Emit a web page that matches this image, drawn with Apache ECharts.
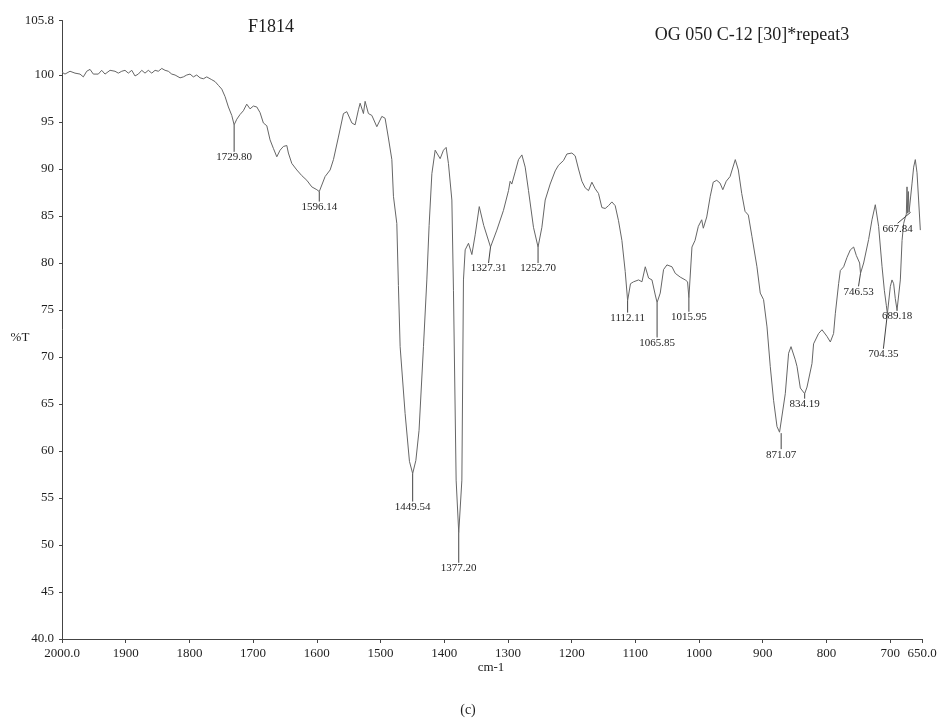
<!DOCTYPE html>
<html>
<head>
<meta charset="utf-8">
<script src="https://cdn.jsdelivr.net/npm/echarts@6/dist/echarts.min.js"></script>
<style>
  html, body { margin: 0; padding: 0; background: #fff; }
  #chart { width: 937px; height: 719px; }
</style>
</head>
<body>
<div id="chart"></div>
<script>
// FTIR transmittance spectrum, 2000-650 cm-1
const waveNumber = [
  2000.0, 1995.3, 1987.4, 1979.6, 1971.7, 1966.5, 1961.2, 1956.0, 1950.8, 1943.0,
  1937.7, 1932.5, 1924.6, 1916.8, 1911.6, 1906.2, 1901.1, 1895.9, 1890.5, 1885.4,
  1880.2, 1874.8, 1869.7, 1864.5, 1859.1, 1853.9, 1848.8, 1843.4, 1838.2, 1833.1,
  1827.7, 1822.5, 1814.7, 1809.5, 1804.2, 1799.0, 1793.8, 1788.5, 1783.3, 1778.1,
  1772.8, 1764.9, 1759.7, 1754.5, 1749.2, 1744.0, 1738.8, 1733.5,
  1725.6, 1720.5, 1715.3, 1710.0, 1704.8, 1699.6, 1694.2, 1689.1, 1683.9, 1678.5,
  1673.4, 1668.2, 1662.8, 1657.7, 1652.5, 1647.1, 1644.6, 1639.3, 1631.4, 1623.6,
  1615.7, 1607.9, 1600.0,
  1587.0, 1579.1, 1573.9, 1566.1, 1558.2, 1552.9, 1545.0, 1539.9, 1534.7, 1532.0,
  1526.8, 1524.2, 1519.0, 1513.6, 1505.8, 1497.9, 1492.8, 1487.6, 1482.2, 1479.7,
  1474.4, 1471.9, 1469.2, 1461.4, 1454.6,
  1444.5, 1439.5, 1432.6, 1427.3, 1423.7, 1419.4, 1414.2, 1411.6, 1406.4, 1401.2,
  1397.0, 1393.4, 1388.0, 1385.5, 1381.3,
  1372.3, 1369.8, 1367.1, 1361.9, 1356.6, 1351.4, 1345.0, 1338.0,
  1317.4, 1307.0, 1299.1, 1296.5, 1293.9, 1288.6, 1283.4, 1278.1, 1272.9, 1267.7,
  1259.9,
  1246.7, 1241.5, 1233.7, 1225.8, 1220.6, 1212.8, 1207.4, 1199.6, 1194.4, 1189.2,
  1183.9, 1178.7, 1173.5, 1168.2, 1163.0, 1157.8, 1152.5, 1147.3, 1142.1, 1136.8,
  1131.6, 1126.4, 1121.1, 1115.9,
  1107.6, 1102.8, 1094.9, 1089.6, 1084.4, 1079.2, 1073.9, 1068.7,
  1060.9, 1055.7, 1050.4, 1042.5, 1037.3, 1029.5, 1021.6, 1018.0,
  1011.1, 1006.3, 1001.1, 995.8, 993.3, 987.9, 982.4, 977.7, 972.2, 967.0,
  962.7, 957.3, 951.3, 943.1, 938.3, 933.0, 927.8, 922.6, 916.9, 909.1,
  903.9, 898.7, 893.3, 888.2, 883.0, 877.6, 873.6,
  864.6, 859.4, 855.6, 848.9, 846.2, 841.0,
  830.5, 822.7, 820.2, 812.3, 807.0, 799.2, 793.9, 788.8, 786.1, 780.9,
  778.2, 773.0, 767.7, 762.5, 757.3, 753.1, 747.9,
  741.6, 739.0, 733.8, 728.5, 723.3, 718.1, 712.7, 709.1, 706.0,
  699.7, 697.1, 694.5, 691.9,
  684.0, 681.3, 678.8, 676.1, 674.6, 673.5, 672.5, 671.4, 670.3,
  665.6, 663.1, 660.5, 657.8, 655.3, 652.6
];
const transmittance = [
  100.3, 100.1, 100.4, 100.2, 100.1, 99.8, 100.4, 100.6, 100.1, 100.1,
  100.5, 100.1, 100.5, 100.4, 100.2, 100.4, 100.5, 100.2, 100.5, 99.9,
  100.1, 100.5, 100.2, 100.5, 100.2, 100.5, 100.4, 100.7, 100.5, 100.4,
  100.1, 100.0, 99.7, 99.8, 100.0, 100.1, 99.8, 100.0, 99.7, 99.6,
  99.8, 99.5, 99.3, 98.9, 98.5, 97.7, 96.6, 95.7,
  95.3, 95.8, 96.2, 96.9, 96.4, 96.7, 96.6, 96.0, 94.9, 94.6,
  93.1, 92.2, 91.3, 92.0, 92.4, 92.5, 91.7, 90.6, 89.9, 89.3,
  88.8, 88.1, 87.8,
  89.2, 89.9, 91.0, 93.4, 95.9, 96.1, 94.9, 94.7, 96.3, 97.0,
  95.9, 97.2, 95.9, 95.7, 94.5, 95.6, 95.4, 93.3, 91.0, 87.1,
  84.2, 77.6, 71.1, 64.0, 58.9,
  59.0, 62.2, 71.1, 78.2, 84.0, 89.5, 92.0, 92.2, 91.1, 92.0,
  92.3, 90.6, 86.7, 77.1, 56.9,
  56.9, 78.2, 81.4, 82.1, 80.9, 83.0, 86.0, 84.0,
  83.5, 85.6, 87.7, 88.7, 88.4, 89.7, 91.0, 91.5, 90.2, 87.7,
  83.8,
  83.8, 86.7, 88.4, 89.8, 90.4, 90.9, 91.6, 91.7, 91.4, 90.0,
  88.7, 88.0, 87.7, 88.6, 87.9, 87.4, 85.9, 85.8, 86.1, 86.5,
  86.1, 84.5, 82.4, 79.1,
  77.8, 78.0, 78.2, 78.0, 79.6, 78.4, 78.2, 76.6,
  76.8, 79.3, 79.8, 79.6, 78.9, 78.5, 78.2, 78.0,
  81.7, 82.4, 83.9, 84.6, 83.7, 84.9, 87.1, 88.6, 88.8, 88.5,
  87.8, 88.7, 89.2, 91.0, 89.9, 87.4, 85.5, 85.1, 82.8, 79.6,
  76.8, 76.1, 73.2, 69.0, 65.4, 62.6, 62.0,
  66.1, 70.4, 71.1, 69.7, 69.0, 66.7,
  66.8, 69.3, 71.4, 72.5, 72.9, 72.2, 71.6, 72.5, 74.6, 77.8,
  79.2, 79.6, 80.6, 81.4, 81.7, 80.8, 80.0,
  80.0, 79.8, 82.5, 84.6, 86.2, 83.9, 79.6, 77.1, 75.5,
  77.5, 78.2, 77.8, 76.2,
  78.2, 82.4, 84.2, 84.9, 85.2, 88.1, 85.3, 87.6, 85.4,
  88.5, 90.2, 91.0, 89.6, 86.7, 83.5
];

// Labelled absorption peaks (band position, %T at the band)
const peakWn = [1729.80, 1596.14, 1449.54, 1377.20, 1327.31, 1252.70, 1112.11, 1065.85,
                1015.95, 871.07, 834.19, 746.53, 704.35, 689.18, 667.84];
const peakT  = [94.7, 87.6, 57.6, 51.3, 81.7, 81.7, 76.0, 75.8,
                76.3, 61.9, 66.1, 78.9, 74.6, 75.0, 85.4];

// Axis ticks
const xTicks = [2000, 1900, 1800, 1700, 1600, 1500, 1400, 1300, 1200, 1100, 1000, 900, 800, 700, 650];
const yTicks = [40, 45, 50, 55, 60, 65, 70, 75, 80, 85, 90, 95, 100, 105.8];

// Leader-line layout for the peak labels (pixels)
const leaderDrop  = [27, 10, 28, 30, 16, 16, 12, 35, 14, 16, 5, 13, 35, 1, 11];
const leaderShift = [0, 0, 0, 0, -2, 0, 0, 0, 0, 0, 0, -2, -4, 0, -13];

// Merge the trace with the peak minima so the curve passes through each band
const trace = waveNumber.map((w, i) => [w, transmittance[i]])
  .concat(peakWn.map((w, i) => [w, peakT[i]]))
  .sort((a, b) => b[0] - a[0]);

const peaks = peakWn.map((w, i) => [w, peakT[i]]);

const SERIF = '"Liberation Serif", "Times New Roman", serif';
const INK = '#1e1e1e';

const chart = echarts.init(document.getElementById('chart'), null, { renderer: 'canvas' });

chart.setOption({
  backgroundColor: '#ffffff',
  animation: false,
  grid: { left: 62, right: 15, top: 20.5, bottom: 80, outerBoundsMode: 'none', containLabel: false },
  xAxis: {
    type: 'value',
    inverse: true,
    min: 650,
    max: 2000,
    axisLine: { show: true, lineStyle: { color: '#444', width: 1 } },
    axisTick: { show: true, length: 4, customValues: xTicks, lineStyle: { color: '#444' } },
    axisLabel: {
      customValues: xTicks,
      margin: 8,
      color: INK,
      fontFamily: SERIF,
      fontSize: 13,
      formatter: v => (v === 2000 || v === 650) ? v.toFixed(1) : String(v)
    },
    splitLine: { show: false }
  },
  yAxis: {
    type: 'value',
    min: 40,
    max: 105.8,
    axisLine: { show: true, lineStyle: { color: '#444', width: 1 } },
    axisTick: { show: true, length: 3, customValues: yTicks, lineStyle: { color: '#444' } },
    axisLabel: {
      customValues: yTicks,
      margin: 8,
      color: INK,
      fontFamily: SERIF,
      fontSize: 13,
      formatter: v => v === 40 ? '40.0' : (v === 105.8 ? '105.8' : String(v))
    },
    splitLine: { show: false }
  },
  graphic: [
    { type: 'text', style: { text: 'F1814', x: 271, y: 27, font: '18px ' + SERIF, fill: INK, align: 'center', verticalAlign: 'middle' } },
    { type: 'text', style: { text: 'OG 050 C-12 [30]*repeat3', x: 752, y: 35, font: '18px ' + SERIF, fill: INK, align: 'center', verticalAlign: 'middle' } },
    { type: 'text', style: { text: '%T', x: 20, y: 338, font: '13px ' + SERIF, fill: INK, align: 'center', verticalAlign: 'middle' } },
    { type: 'text', style: { text: 'cm-1', x: 491, y: 668, font: '13px ' + SERIF, fill: INK, align: 'center', verticalAlign: 'middle' } },
    { type: 'text', style: { text: '(c)', x: 468, y: 710, font: '14px ' + SERIF, fill: INK, align: 'center', verticalAlign: 'middle' } }
  ],
  series: [
    {
      type: 'line',
      data: trace,
      showSymbol: false,
      smooth: false,
      lineStyle: { color: '#666', width: 1 },
      z: 2
    },
    {
      type: 'custom',
      data: peaks,
      z: 3,
      renderItem: function (params, api) {
        const i = params.dataIndex;
        const p = api.coord([api.value(0), api.value(1)]);
        const ex = p[0] + leaderShift[i];
        const ey = p[1] + leaderDrop[i];
        return {
          type: 'group',
          children: [
            {
              type: 'line',
              shape: { x1: p[0], y1: p[1], x2: ex, y2: ey },
              style: { stroke: '#444', lineWidth: 1 }
            },
            {
              type: 'text',
              style: {
                text: peakWn[i].toFixed(2),
                x: ex,
                y: ey,
                font: '11px ' + SERIF,
                fill: INK,
                align: 'center',
                verticalAlign: 'top'
              }
            }
          ]
        };
      }
    }
  ]
});
</script>
</body>
</html>
